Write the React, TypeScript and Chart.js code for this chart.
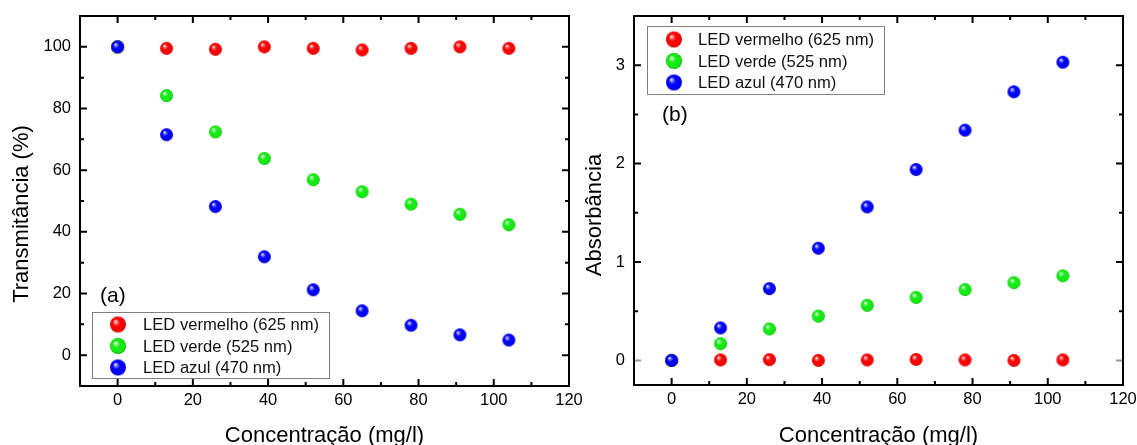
import React, { useEffect, useRef } from "react";
import { Chart, registerables } from "chart.js";

Chart.register(...registerables);

// ---------- data ----------
const concentration = [0, 13, 26, 39, 52, 65, 78, 91, 104];

const transRed = [100, 99.5, 99.2, 100, 99.5, 99.0, 99.5, 100, 99.5];
const transGreen = [100, 84.2, 72.4, 63.8, 56.9, 53.0, 49.0, 45.7, 42.3];
const transBlue = [100, 71.5, 48.2, 31.9, 21.2, 14.4, 9.7, 6.6, 4.9];

const absRed = [0, 0.005, 0.008, 0.0, 0.005, 0.01, 0.005, 0.0, 0.005];
const absGreen = [0, 0.17, 0.32, 0.45, 0.56, 0.64, 0.72, 0.79, 0.86];
const absBlue = [0, 0.33, 0.73, 1.14, 1.56, 1.94, 2.34, 2.73, 3.03];

const seriesLabels = ["LED vermelho (625 nm)", "LED verde (525 nm)", "LED azul (470 nm)"];

const xMajorTicks = [0, 20, 40, 60, 80, 100, 120];
const xMinorTicks = [10, 30, 50, 70, 90, 110];
const transMajorTicks = [0, 20, 40, 60, 80, 100];
const transMinorTicks = [10, 30, 50, 70, 90];
const absMajorTicks = [0, 1, 2, 3];
const absMinorTicks = [0.5, 1.5, 2.5];

const xTitle = "Concentração (mg/l)";
const transTitle = "Transmitância (%)";
const absTitle = "Absorbância";

// ---------- styling ----------
const FONT = "'Liberation Sans', Arial, sans-serif";
const sphereColors = [
  { base: [255, 0, 0], edge: [185, 0, 0] },
  { base: [20, 235, 20], edge: [0, 170, 0] },
  { base: [0, 0, 255], edge: [0, 0, 175] },
];

function makeSphere(ci: number, r: number): HTMLCanvasElement {
  const s = Math.ceil(r * 2) + 2;
  const c = document.createElement("canvas");
  c.width = s;
  c.height = s;
  const ctx = c.getContext("2d")!;
  const cx = s / 2;
  const cy = s / 2;
  const { base, edge } = sphereColors[ci];
  const rgb = (a: number[]) => `rgb(${a[0]},${a[1]},${a[2]})`;
  const g = ctx.createRadialGradient(cx - r * 0.35, cy - r * 0.4, r * 0.02, cx, cy, r);
  g.addColorStop(0, "rgb(255,255,255)");
  g.addColorStop(0.18, `rgb(${Math.round(base[0] * 0.5 + 128)},${Math.round(base[1] * 0.5 + 128)},${Math.round(base[2] * 0.5 + 128)})`);
  g.addColorStop(0.45, rgb(base));
  g.addColorStop(0.85, rgb(base));
  g.addColorStop(1, rgb(edge));
  ctx.fillStyle = g;
  ctx.beginPath();
  ctx.arc(cx, cy, r, 0, Math.PI * 2);
  ctx.fill();
  return c;
}

type PanelSpec = {
  offset: number;
  width: number;
  area: { left: number; right: number; top: number; bottom: number };
  yMin: number;
  yMax: number;
  yMajor: number[];
  yMinor: number[];
  series: number[][];
  yTitle: string;
  yTitleX: number;
  yTitleY: number;
  legend: { left: number; top: number; w: number; h: number; markerX: number; textX: number; rows: number[] };
  tag: string;
  tagX: number;
  tagY: number;
  zeroTickGray: boolean;
};

const H = 445;

const decorPlugin = {
  id: "decor",
  afterDraw(chart: any, _args: any, opts: any) {
    const spec: PanelSpec = opts.spec;
    const { ctx, chartArea: a, scales } = chart;
    const xs = scales.x;
    const ys = scales.y;
    ctx.save();
    ctx.lineWidth = 2;
    ctx.strokeStyle = "#000";
    const majorLen = 7;
    const minorLen = 4;
    const xTick = (v: number, len: number) => {
      const px = xs.getPixelForValue(v);
      ctx.beginPath();
      ctx.moveTo(px, a.bottom);
      ctx.lineTo(px, a.bottom - len);
      ctx.moveTo(px, a.top);
      ctx.lineTo(px, a.top + len);
      ctx.stroke();
    };
    const yTick = (v: number, len: number) => {
      const py = ys.getPixelForValue(v);
      ctx.strokeStyle = spec.zeroTickGray && v === 0 ? "#999" : "#000";
      ctx.beginPath();
      ctx.moveTo(a.left, py);
      ctx.lineTo(a.left + len, py);
      ctx.moveTo(a.right, py);
      ctx.lineTo(a.right - len, py);
      ctx.stroke();
      ctx.strokeStyle = "#000";
    };
    xMajorTicks.forEach((v) => xTick(v, majorLen));
    xMinorTicks.forEach((v) => xTick(v, minorLen));
    spec.yMajor.forEach((v) => yTick(v, majorLen));
    spec.yMinor.forEach((v) => yTick(v, minorLen));
    ctx.strokeRect(a.left, a.top, a.right - a.left, a.bottom - a.top);

    // legend
    const L = spec.legend;
    ctx.fillStyle = "#fff";
    ctx.fillRect(L.left, L.top, L.w, L.h);
    ctx.lineWidth = 1;
    ctx.strokeStyle = "#808080";
    ctx.strokeRect(L.left + 0.5, L.top + 0.5, L.w, L.h);
    ctx.font = `16.6px ${FONT}`;
    ctx.fillStyle = "#111";
    ctx.textAlign = "left";
    ctx.textBaseline = "middle";
    seriesLabels.forEach((lab, i) => {
      const img = opts.legendImgs[i];
      ctx.drawImage(img, L.markerX - img.width / 2, L.rows[i] - img.height / 2);
      ctx.fillText(lab, L.textX, L.rows[i] + 1);
    });

    // panel tag
    ctx.font = `21px ${FONT}`;
    ctx.fillStyle = "#000";
    ctx.fillText(spec.tag, spec.tagX, spec.tagY);

    // axis titles
    ctx.font = `22px ${FONT}`;
    ctx.textAlign = "center";
    ctx.textBaseline = "alphabetic";
    ctx.fillText(xTitle, (a.left + a.right) / 2, 442);
    ctx.save();
    ctx.translate(spec.yTitleX, spec.yTitleY);
    ctx.rotate(-Math.PI / 2);
    ctx.textBaseline = "middle";
    ctx.fillText(spec.yTitle, 0, 0);
    ctx.restore();
    ctx.restore();
  },
};

function Panel({ spec }: { spec: PanelSpec }) {
  const ref = useRef<HTMLCanvasElement>(null);
  useEffect(() => {
    const canvas = ref.current!;
    const pointImgs = [0, 1, 2].map((i) => makeSphere(i, 6.5));
    const legendImgs = [0, 1, 2].map((i) => makeSphere(i, 8));
    const order = [3, 2, 1];
    const datasets = spec.series.map((vals, i) => ({
      label: seriesLabels[i],
      data: concentration.map((x, k) => ({ x, y: vals[k] })),
      pointStyle: pointImgs[i] as any,
      pointRadius: 6.5,
      showLine: false,
      order: order[i],
    }));
    const tickFont = { family: FONT, size: 16.5 };
    const zeroPad = (s: any) => {
      s.paddingLeft = 0;
      s.paddingRight = 0;
      s.paddingTop = 0;
      s.paddingBottom = 0;
    };
    const chart = new Chart(canvas, {
      type: "scatter",
      data: { datasets },
      plugins: [decorPlugin],
      options: {
        responsive: false,
        animation: false,
        events: [],
        layout: {
          padding: { left: 0, right: spec.width - spec.area.right, top: spec.area.top, bottom: 0 },
        },
        plugins: {
          legend: { display: false },
          tooltip: { enabled: false },
          decor: { spec, legendImgs },
        } as any,
        scales: {
          x: {
            type: "linear",
            min: -10,
            max: 120,
            grid: { display: false, drawTicks: false },
            border: { display: false },
            ticks: { font: tickFont, color: "#000", padding: 5, maxRotation: 0 },
            afterBuildTicks: (s: any) => {
              s.ticks = xMajorTicks.map((v) => ({ value: v }));
            },
            afterFit: (s: any) => {
              s.height = H - spec.area.bottom;
              zeroPad(s);
            },
          },
          y: {
            type: "linear",
            min: spec.yMin,
            max: spec.yMax,
            grid: { display: false, drawTicks: false },
            border: { display: false },
            ticks: { font: tickFont, color: "#000", padding: 9 },
            afterBuildTicks: (s: any) => {
              s.ticks = spec.yMajor.map((v) => ({ value: v }));
            },
            afterFit: (s: any) => {
              s.width = spec.area.left;
              zeroPad(s);
            },
          },
        },
      } as any,
    });
    return () => chart.destroy();
  }, [spec]);
  return <canvas ref={ref} width={spec.width} height={H} style={{ display: "block" }} />;
}

const panelA: PanelSpec = {
  offset: 0,
  width: 600,
  area: { left: 80, right: 569, top: 16, bottom: 386 },
  yMin: -10,
  yMax: 110,
  yMajor: transMajorTicks,
  yMinor: transMinorTicks,
  series: [transRed, transGreen, transBlue],
  yTitle: transTitle,
  yTitleX: 22,
  yTitleY: 214,
  legend: { left: 92, top: 312, w: 237, h: 66, markerX: 118, textX: 143, rows: [324.5, 346, 367.5] },
  tag: "(a)",
  tagX: 100,
  tagY: 296,
  zeroTickGray: false,
};

const panelB: PanelSpec = {
  offset: 575,
  width: 562,
  area: { left: 59, right: 548, top: 16, bottom: 385 },
  yMin: -0.25,
  yMax: 3.5,
  yMajor: absMajorTicks,
  yMinor: absMinorTicks,
  series: [absRed, absGreen, absBlue],
  yTitle: absTitle,
  yTitleX: 20,
  yTitleY: 215,
  legend: { left: 72, top: 26, w: 237, h: 68, markerX: 99, textX: 123, rows: [39.5, 61, 82.5] },
  tag: "(b)",
  tagX: 87,
  tagY: 115,
  zeroTickGray: true,
};

export default function App() {
  useEffect(() => {
    document.body.style.margin = "0";
    document.body.style.background = "#fff";
  }, []);
  return (
    <div style={{ position: "relative", width: 1137, height: H, overflow: "hidden", background: "#fff" }}>
      <div style={{ position: "absolute", left: panelA.offset, top: 0 }}>
        <Panel spec={panelA} />
      </div>
      <div style={{ position: "absolute", left: panelB.offset, top: 0 }}>
        <Panel spec={panelB} />
      </div>
    </div>
  );
}
